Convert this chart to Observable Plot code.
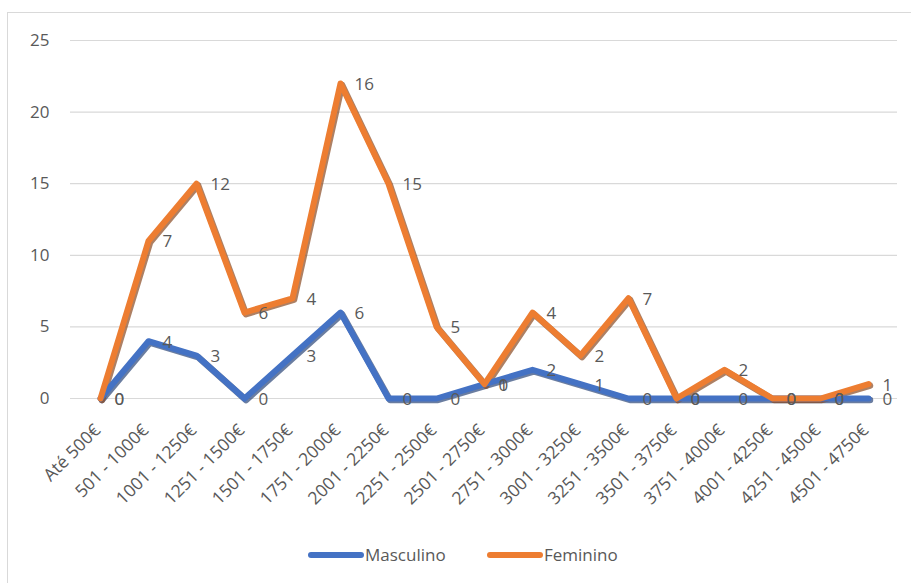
<!DOCTYPE html>
<html>
<head>
<meta charset="utf-8">
<script src="https://cdn.jsdelivr.net/npm/d3@7"></script>
<script src="https://cdn.jsdelivr.net/npm/@observablehq/plot@0.6"></script>
<style>
  html, body { margin: 0; padding: 0; background: #fff; }
  #wrap { position: relative; width: 911px; height: 583px; overflow: hidden; background: #fff;
          font-family: "Open Sans", "Liberation Sans", sans-serif; }
  #frame { position: absolute; left: 7px; top: 12px; width: 920px; height: 600px;
           border-left: 1px solid #d9d9d9; border-top: 1px solid #d9d9d9; }
  #chart { position: absolute; left: 0; top: 0; }
  #legend { position: absolute; left: 0; top: 544px; width: 911px; height: 22px;
            font-size: 17px; color: #595959; }
  .sw { position: absolute; top: 8px; width: 56px; height: 6px; border-radius: 3px; }
  .lb { position: absolute; top: 0; line-height: 22px; }
</style>
</head>
<body>
<div id="wrap">
  <div id="frame"></div>
  <div id="chart"></div>
  <div id="legend"></div>
</div>
<script>
const categories = ["Até 500€", "501 - 1000€", "1001 - 1250€", "1251 - 1500€", "1501 - 1750€",
  "1751 - 2000€", "2001 - 2250€", "2251 - 2500€", "2501 - 2750€", "2751 - 3000€", "3001 - 3250€",
  "3251 - 3500€", "3501 - 3750€", "3751 - 4000€", "4001 - 4250€", "4251 - 4500€", "4501 - 4750€"];
const masculino = [0, 4, 3, 0, 3, 6, 0, 0, 1, 2, 1, 0, 0, 0, 0, 0, 0];
const feminino  = [0, 7, 12, 6, 4, 16, 15, 5, 0, 4, 2, 7, 0, 2, 0, 0, 1];
const seriesNames = ["Masculino", "Feminino"];
const seriesColors = ["#4472C4", "#ED7D31"];
const shadowColors = ["#2b4677", "#8a4a22"];
const yTicks = [0, 5, 10, 15, 20, 25];

const data = categories.flatMap((c, i) => [
  {cat: c, series: "Masculino", value: masculino[i]},
  {cat: c, series: "Feminino", value: feminino[i]}
]);

const stackOpts = {x: "cat", y: "value", z: "series"};
const font = "'Open Sans', 'Liberation Sans', sans-serif";

const chart = Plot.plot({
  width: 911,
  height: 525,
  marginLeft: 70,
  marginRight: 14,
  marginTop: 40,
  marginBottom: 127,
  style: {fontFamily: font, color: "#595959", background: "transparent"},
  x: {type: "point", domain: categories, padding: 0.5, label: null},
  y: {domain: [0, 25], label: null},
  color: {domain: seriesNames, range: seriesColors},
  marks: [
    Plot.gridY(yTicks, {stroke: "#d9d9d9", strokeOpacity: 1, strokeWidth: 1.2}),
    Plot.axisY({ticks: yTicks, tickSize: 0, tickPadding: 21, fontSize: 17, label: null}),
    Plot.axisX({tickRotate: -45, tickSize: 0, tickPadding: 29, dx: -3, fontSize: 17.5, label: null}),
    Plot.line(data, Plot.stackY2({...stackOpts, stroke: d => shadowColors[seriesNames.indexOf(d.series)],
      strokeWidth: 6.5, dx: 1.5, dy: 1.5, strokeOpacity: 0.7, strokeLinejoin: "round", strokeLinecap: "round"})),
    Plot.line(data, Plot.stackY2({...stackOpts, stroke: "series", strokeWidth: 6,
      strokeLinejoin: "round", strokeLinecap: "round"})),
    Plot.text(data, Plot.stackY2({...stackOpts, text: "value", dx: 14, dy: 1, textAnchor: "start",
      fontSize: 17, fill: "#595959"}))
  ]
});
document.getElementById("chart").appendChild(chart);

const legend = document.getElementById("legend");
const swatchLeft = [308, 487];
const labelLeft = [365, 544];
seriesNames.forEach((name, i) => {
  const sw = document.createElement("span");
  sw.className = "sw";
  sw.style.background = seriesColors[i];
  sw.style.left = swatchLeft[i] + "px";
  const label = document.createElement("span");
  label.className = "lb";
  label.style.left = labelLeft[i] + "px";
  label.textContent = name;
  legend.appendChild(sw);
  legend.appendChild(label);
});
</script>
</body>
</html>
